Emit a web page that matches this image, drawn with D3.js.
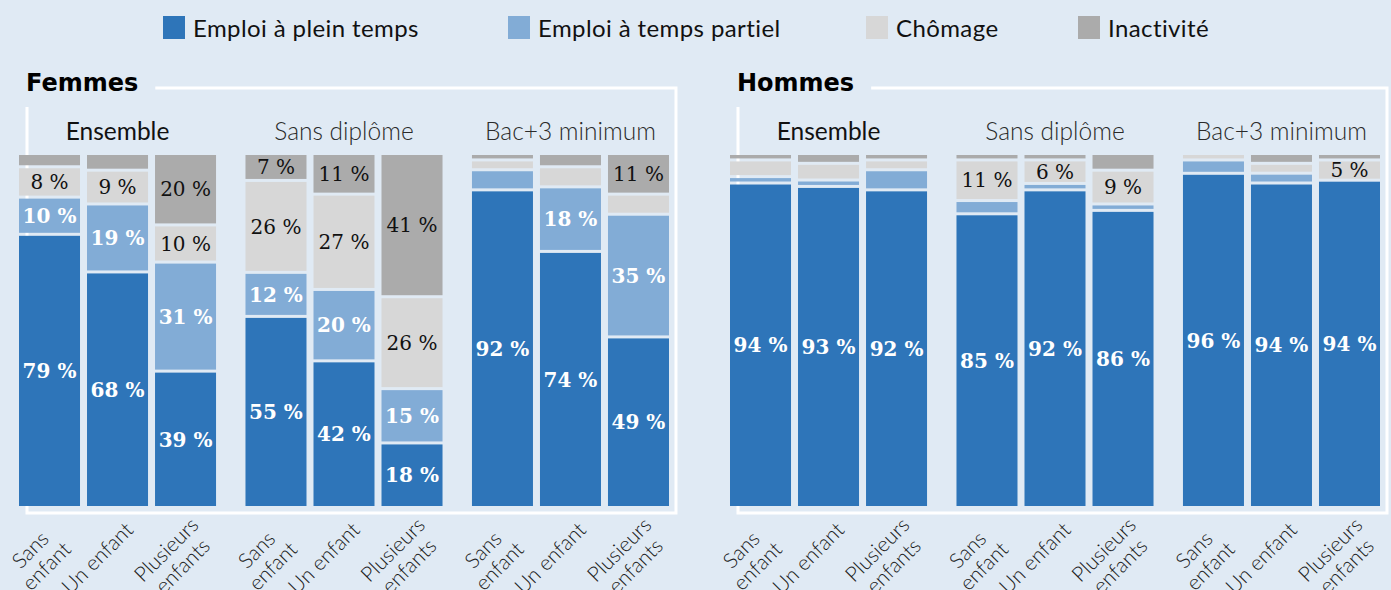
<!DOCTYPE html>
<html>
<head>
<meta charset="utf-8">
<script src="https://cdn.jsdelivr.net/npm/d3@7"></script>
<style>
body{margin:0;background:#e0eaf4;}
svg{display:block;}
</style>
</head>
<body>
<script>

/*DATA
------------------------------------------------------
*/
const genders = ["Femmes", "Hommes"];
const diplomas = ["Ensemble", "Sans diplôme", "Bac+3 minimum"];
const situations = ["Sans enfant", "Un enfant", "Plusieurs enfants"];
const tickLabels = [["Sans", "enfant"], ["Un enfant"], ["Plusieurs", "enfants"]];
const statuses = ["Emploi à plein temps", "Emploi à temps partiel", "Chômage", "Inactivité"];

// ordre : Femmes (Ensemble, Sans diplôme, Bac+3) puis Hommes, 3 situations par groupe
const fullTime     = [79, 68, 39, 55, 42, 18, 92, 74, 49, 94, 93, 92, 85, 92, 86, 96, 94, 94];
const partTime     = [10, 19, 31, 12, 20, 15,  5, 18, 35,  1,  1,  5,  3,  1,  1,  3,  2,  0];
const unemployment = [ 8,  9, 10, 26, 27, 26,  2,  5,  5,  4,  4,  2, 11,  6,  9,  1,  2,  5];
const inactivity   = [ 3,  4, 20,  7, 11, 41,  1,  3, 11,  1,  2,  1,  1,  1,  4,  0,  2,  1];

// petites valeurs tout de même étiquetées
const extraLabels = ["Hommes|Bac+3 minimum|Plusieurs enfants|Chômage"];

/*INITIATE
------------------------------------------------------
*/
const width = 1391, height = 590;
const bg = "#e0eaf4";
const colors = ["#2e75b9", "#82acd6", "#d7d7d7", "#ababab"];
const textColors = ["#fff", "#fff", "#111", "#111"];
const series = [fullTime, partTime, unemployment, inactivity];

const barTop = 155, barBottom = 506, gap = 3;

const svg = d3.select("body").append("svg")
	.attr("width", width)
	.attr("height", height);

svg.append("rect").attr("width", width).attr("height", height).attr("fill", bg);

/*LEGEND
------------------------------------------------------
*/
const legendX = [163, 508, 866, 1078];
const legend = svg.append("g");
statuses.forEach(function(s, i){
	legend.append("rect")
		.attr("x", legendX[i]).attr("y", 16)
		.attr("width", 22).attr("height", 23)
		.attr("fill", colors[i]);
	legend.append("text")
		.attr("x", legendX[i] + 30).attr("y", 37)
		.attr("font-family", "Lato").attr("font-size", 24)
		.attr("letter-spacing", 0.4)
		.attr("fill", "#111")
		.text(s);
});

/*SCALES
------------------------------------------------------
*/
const xPanel = d3.scaleBand().domain(genders).range([19, 1380]).paddingInner(0.0858);
const xGroup = d3.scaleBand().domain(diplomas).range([0, xPanel.bandwidth()]).paddingInner(0.13);
const xBar = d3.scaleBand().domain(situations).range([0, xGroup.bandwidth()]).paddingInner(0.103);

/*PANELS
------------------------------------------------------
*/
genders.forEach(function(g, gi){
	const x0 = xPanel(g);
	const panel = svg.append("g").attr("transform", "translate(" + x0 + ",0)");

	const title = panel.append("text")
		.attr("x", 7).attr("y", 91)
		.attr("font-family", "DejaVu Sans").attr("font-weight", "bold")
		.attr("font-size", 24).attr("fill", "#000")
		.text(g);
	const tw = title.node().getComputedTextLength();

	// cadre blanc, derrière les barres
	panel.insert("path", "text")
		.attr("d", "M" + (7 + tw + 17) + ",88 H" + (xPanel.bandwidth() + 7) + " V513 H8 V107")
		.attr("fill", "none").attr("stroke", "#fff").attr("stroke-width", 3);

	diplomas.forEach(function(d, di){
		const gx = xGroup(d);
		panel.append("text")
			.attr("x", gx + xGroup.bandwidth() / 2).attr("y", 140)
			.attr("text-anchor", "middle")
			.attr("font-family", "Lato").attr("font-size", 24.5)
			.attr("font-weight", di === 0 ? 400 : 300)
			.attr("fill", di === 0 ? "#111" : "#2a2a2a")
			.text(d);

		situations.forEach(function(s, si){
			const idx = gi * 9 + di * 3 + si;
			const vals = series.map(a => a[idx]);
			const n = vals.filter(v => v > 0).length;
			const h = d3.scaleLinear().domain([0, 100]).range([0, (barBottom - barTop) - gap * (n - 1)]);
			const bx = gx + xBar(s);
			const bw = xBar.bandwidth();
			let y = barBottom;
			vals.forEach(function(v, k){
				if (v <= 0) return;
				const hh = h(v);
				panel.append("rect")
					.attr("x", bx).attr("y", y - hh)
					.attr("width", bw).attr("height", hh)
					.attr("fill", colors[k]);
				const key = [g, d, s, statuses[k]].join("|");
				if (v >= 6 || extraLabels.includes(key)) {
					panel.append("text")
						.attr("x", bx + bw / 2).attr("y", y - hh / 2)
						.attr("dy", "0.36em")
						.attr("text-anchor", "middle")
						.attr("font-family", "DejaVu Serif")
						.attr("font-weight", k < 2 ? "bold" : "normal")
						.attr("font-size", 20)
						.attr("fill", textColors[k])
						.text(v + " %");
				}
				y = y - hh - gap;
			});

			// étiquettes d'axe inclinées
			const lines = tickLabels[si];
			const off = lines.length === 1 ? -21 : -12;
			const lab = panel.append("text")
				.attr("transform", "translate(" + (bx + bw / 2 + off) + ",557) rotate(-45)")
				.attr("text-anchor", "middle")
				.attr("font-family", "Lato").attr("font-weight", 300)
				.attr("font-size", 21).attr("fill", "#1a1a1a");
			lines.forEach(function(l, li){
				lab.append("tspan")
					.attr("x", 0)
					.attr("y", (li - (lines.length - 1) / 2) * 23)
					.attr("dominant-baseline", "central")
					.text(l);
			});
		});
	});
});

</script>
</body>
</html>
